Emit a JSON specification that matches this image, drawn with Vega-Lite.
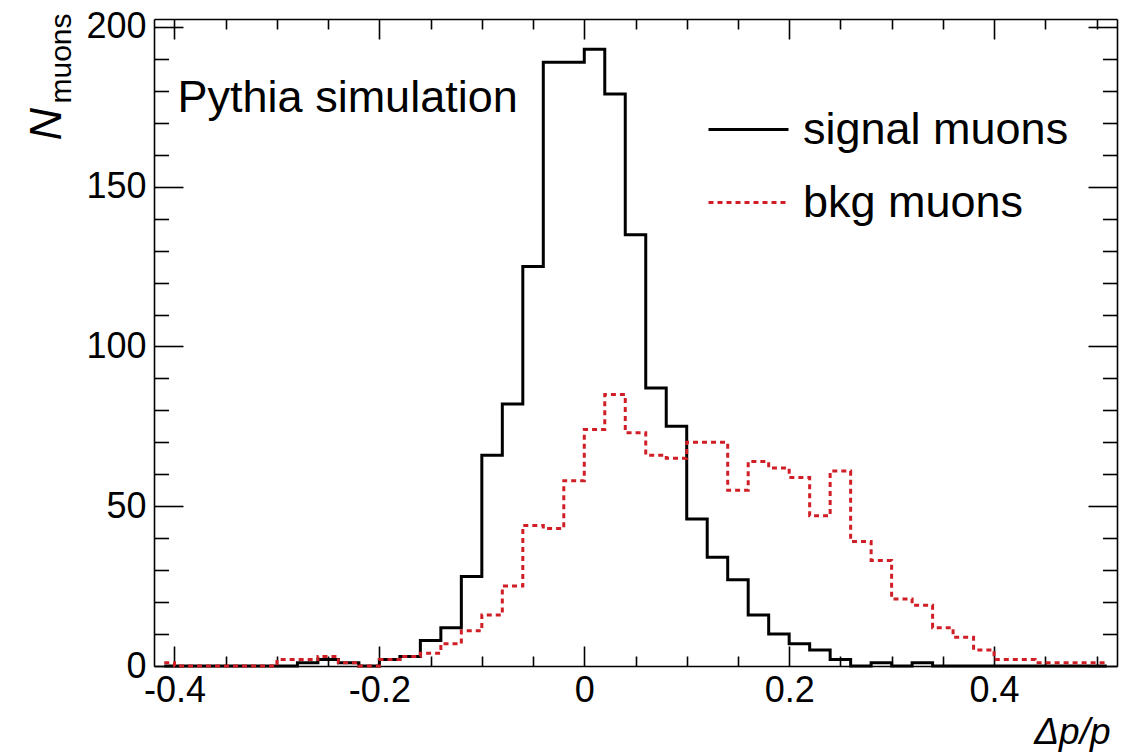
{
  "$schema": "https://vega.github.io/schema/vega-lite/v6.json",
  "width": 963,
  "height": 647,
  "autosize": {"type": "none"},
  "padding": {"left": 154, "top": 19, "right": 20, "bottom": 89},
  "background": "white",
  "config": {
    "view": {"stroke": null},
    "font": "Liberation Sans",
    "axis": {
      "grid": false,
      "domainColor": "#000000",
      "domainWidth": 1.6,
      "tickColor": "#000000",
      "tickWidth": 1.6,
      "labelColor": "#000000",
      "titleColor": "#000000",
      "labelFont": "Liberation Sans",
      "titleFont": "Liberation Sans",
      "titleFontWeight": "normal",
      "labelFontSize": 36,
      "labelOverlap": false,
      "labelFlush": false,
      "labelBound": false
    },
    "legend": {"rowPadding": 8}
  },
  "data": {
    "values": [
      {"x": -0.41, "series": "signal muons", "count": 0},
      {"x": -0.39, "series": "signal muons", "count": 0},
      {"x": -0.37, "series": "signal muons", "count": 0},
      {"x": -0.35, "series": "signal muons", "count": 0},
      {"x": -0.33, "series": "signal muons", "count": 0},
      {"x": -0.31, "series": "signal muons", "count": 0},
      {"x": -0.29, "series": "signal muons", "count": 0},
      {"x": -0.27, "series": "signal muons", "count": 1},
      {"x": -0.25, "series": "signal muons", "count": 2},
      {"x": -0.23, "series": "signal muons", "count": 1},
      {"x": -0.21, "series": "signal muons", "count": 0},
      {"x": -0.19, "series": "signal muons", "count": 2},
      {"x": -0.17, "series": "signal muons", "count": 3},
      {"x": -0.15, "series": "signal muons", "count": 8},
      {"x": -0.13, "series": "signal muons", "count": 12},
      {"x": -0.11, "series": "signal muons", "count": 28},
      {"x": -0.09, "series": "signal muons", "count": 66},
      {"x": -0.07, "series": "signal muons", "count": 82},
      {"x": -0.05, "series": "signal muons", "count": 125},
      {"x": -0.03, "series": "signal muons", "count": 189},
      {"x": -0.01, "series": "signal muons", "count": 189},
      {"x": 0.01, "series": "signal muons", "count": 193},
      {"x": 0.03, "series": "signal muons", "count": 179},
      {"x": 0.05, "series": "signal muons", "count": 135},
      {"x": 0.07, "series": "signal muons", "count": 87},
      {"x": 0.09, "series": "signal muons", "count": 75},
      {"x": 0.11, "series": "signal muons", "count": 46},
      {"x": 0.13, "series": "signal muons", "count": 34},
      {"x": 0.15, "series": "signal muons", "count": 27},
      {"x": 0.17, "series": "signal muons", "count": 16},
      {"x": 0.19, "series": "signal muons", "count": 10},
      {"x": 0.21, "series": "signal muons", "count": 7},
      {"x": 0.23, "series": "signal muons", "count": 5},
      {"x": 0.25, "series": "signal muons", "count": 2},
      {"x": 0.27, "series": "signal muons", "count": 0},
      {"x": 0.29, "series": "signal muons", "count": 1},
      {"x": 0.31, "series": "signal muons", "count": 0},
      {"x": 0.33, "series": "signal muons", "count": 1},
      {"x": 0.35, "series": "signal muons", "count": 0},
      {"x": 0.37, "series": "signal muons", "count": 0},
      {"x": 0.39, "series": "signal muons", "count": 0},
      {"x": 0.41, "series": "signal muons", "count": 0},
      {"x": 0.43, "series": "signal muons", "count": 0},
      {"x": 0.45, "series": "signal muons", "count": 0},
      {"x": 0.47, "series": "signal muons", "count": 0},
      {"x": 0.49, "series": "signal muons", "count": 0},
      {"x": 0.51, "series": "signal muons", "count": 0},
      {"x": -0.41, "series": "bkg muons", "count": 1},
      {"x": -0.39, "series": "bkg muons", "count": 0},
      {"x": -0.37, "series": "bkg muons", "count": 0},
      {"x": -0.35, "series": "bkg muons", "count": 0},
      {"x": -0.33, "series": "bkg muons", "count": 0},
      {"x": -0.31, "series": "bkg muons", "count": 0},
      {"x": -0.29, "series": "bkg muons", "count": 2},
      {"x": -0.27, "series": "bkg muons", "count": 2},
      {"x": -0.25, "series": "bkg muons", "count": 3},
      {"x": -0.23, "series": "bkg muons", "count": 1},
      {"x": -0.21, "series": "bkg muons", "count": 0},
      {"x": -0.19, "series": "bkg muons", "count": 2},
      {"x": -0.17, "series": "bkg muons", "count": 3},
      {"x": -0.15, "series": "bkg muons", "count": 4},
      {"x": -0.13, "series": "bkg muons", "count": 7},
      {"x": -0.11, "series": "bkg muons", "count": 11},
      {"x": -0.09, "series": "bkg muons", "count": 16},
      {"x": -0.07, "series": "bkg muons", "count": 25},
      {"x": -0.05, "series": "bkg muons", "count": 44},
      {"x": -0.03, "series": "bkg muons", "count": 43},
      {"x": -0.01, "series": "bkg muons", "count": 58},
      {"x": 0.01, "series": "bkg muons", "count": 74},
      {"x": 0.03, "series": "bkg muons", "count": 85},
      {"x": 0.05, "series": "bkg muons", "count": 73},
      {"x": 0.07, "series": "bkg muons", "count": 66},
      {"x": 0.09, "series": "bkg muons", "count": 65},
      {"x": 0.11, "series": "bkg muons", "count": 70},
      {"x": 0.13, "series": "bkg muons", "count": 70},
      {"x": 0.15, "series": "bkg muons", "count": 55},
      {"x": 0.17, "series": "bkg muons", "count": 64},
      {"x": 0.19, "series": "bkg muons", "count": 62},
      {"x": 0.21, "series": "bkg muons", "count": 59},
      {"x": 0.23, "series": "bkg muons", "count": 47},
      {"x": 0.25, "series": "bkg muons", "count": 61},
      {"x": 0.27, "series": "bkg muons", "count": 39},
      {"x": 0.29, "series": "bkg muons", "count": 33},
      {"x": 0.31, "series": "bkg muons", "count": 21},
      {"x": 0.33, "series": "bkg muons", "count": 19},
      {"x": 0.35, "series": "bkg muons", "count": 12},
      {"x": 0.37, "series": "bkg muons", "count": 9},
      {"x": 0.39, "series": "bkg muons", "count": 5},
      {"x": 0.41, "series": "bkg muons", "count": 2},
      {"x": 0.43, "series": "bkg muons", "count": 2},
      {"x": 0.45, "series": "bkg muons", "count": 1},
      {"x": 0.47, "series": "bkg muons", "count": 1},
      {"x": 0.49, "series": "bkg muons", "count": 1},
      {"x": 0.51, "series": "bkg muons", "count": 1}
    ]
  },
  "resolve": {"axis": {"x": "independent", "y": "independent"}},
  "layer": [
    {
      "transform": [{"filter": "datum.series === 'signal muons'"}],
      "mark": {"type": "line", "interpolate": "step", "strokeWidth": 3, "strokeCap": "butt", "strokeJoin": "miter"},
      "encoding": {
        "x": {
          "field": "x",
          "type": "quantitative",
          "scale": {"domain": [-0.42, 0.52], "nice": false, "zero": false},
          "axis": {
            "orient": "bottom",
            "values": [-0.4, -0.35, -0.3, -0.25, -0.2, -0.15, -0.1, -0.05, 0, 0.05, 0.1, 0.15, 0.2, 0.25, 0.3, 0.35, 0.4, 0.45, 0.5],
            "tickSize": {"condition": {"test": "abs(datum.value*5 - round(datum.value*5)) < 0.000001", "value": -20}, "value": -10},
            "labelExpr": "abs(datum.value*5 - round(datum.value*5)) < 0.000001 ? replace(format(datum.value, '~g'), '−', '-') : ''",
            "labelPadding": 27,
            "labelBaseline": "top",
            "title": "Δp/p",
            "titleFontSize": 37,
            "titleFontStyle": "italic",
            "titleAlign": "right",
            "titleBaseline": "alphabetic",
            "titleX": 956,
            "titleY": 77
          }
        },
        "y": {
          "field": "count",
          "type": "quantitative",
          "scale": {"domain": [0, 202.5], "nice": false},
          "axis": {
            "orient": "left",
            "values": [0, 10, 20, 30, 40, 50, 60, 70, 80, 90, 100, 110, 120, 130, 140, 150, 160, 170, 180, 190, 200],
            "tickSize": {"condition": {"test": "datum.value % 50 === 0", "value": -29}, "value": -14.5},
            "labelExpr": "datum.value % 50 === 0 ? datum.label : ''",
            "labelPadding": 37,
            "labelBaseline": "middle",
            "title": "N",
            "titleFontSize": 45,
            "titleFontStyle": "italic",
            "titleAngle": -90,
            "titleAlign": "left",
            "titleBaseline": "alphabetic",
            "titleX": -94,
            "titleY": 121
          }
        },
        "color": {
          "field": "series",
          "type": "nominal",
          "scale": {"domain": ["signal muons", "bkg muons"], "range": ["#000000", "#d01e26"]},
          "legend": {
            "title": null,
            "orient": "none",
            "legendX": 553,
            "legendY": 69,
            "padding": 0,
            "symbolType": "stroke",
            "symbolSize": 6400,
            "symbolStrokeWidth": 3,
            "labelFontSize": 45,
            "labelFont": "Liberation Sans",
            "labelColor": "#000000",
            "labelOffset": 13,
            "labelLimit": 500,
            "rowPadding": 8
          }
        },
        "strokeDash": {
          "field": "series",
          "type": "nominal",
          "scale": {"domain": ["signal muons", "bkg muons"], "range": [[1, 0], [5, 4]]},
          "legend": {
            "title": null,
            "orient": "none",
            "legendX": 553,
            "legendY": 69,
            "padding": 0,
            "symbolType": "stroke",
            "symbolSize": 6400,
            "symbolStrokeWidth": 3,
            "labelFontSize": 45,
            "labelFont": "Liberation Sans",
            "labelColor": "#000000",
            "labelOffset": 13,
            "labelLimit": 500,
            "rowPadding": 8
          }
        }
      }
    },
    {
      "transform": [{"filter": "datum.series === 'bkg muons'"}],
      "mark": {"type": "line", "interpolate": "step", "strokeWidth": 3, "strokeCap": "butt"},
      "encoding": {
        "x": {
          "field": "x",
          "type": "quantitative",
          "axis": {
            "orient": "top",
            "values": [-0.4, -0.35, -0.3, -0.25, -0.2, -0.15, -0.1, -0.05, 0, 0.05, 0.1, 0.15, 0.2, 0.25, 0.3, 0.35, 0.4, 0.45, 0.5],
            "tickSize": {"condition": {"test": "abs(datum.value*5 - round(datum.value*5)) < 0.000001", "value": -20}, "value": -10},
            "labels": false,
            "title": null
          }
        },
        "y": {
          "field": "count",
          "type": "quantitative",
          "axis": {
            "orient": "right",
            "values": [0, 10, 20, 30, 40, 50, 60, 70, 80, 90, 100, 110, 120, 130, 140, 150, 160, 170, 180, 190, 200],
            "tickSize": {"condition": {"test": "datum.value % 50 === 0", "value": -29}, "value": -14.5},
            "labels": false,
            "title": null
          }
        },
        "color": {"field": "series", "type": "nominal"},
        "strokeDash": {"field": "series", "type": "nominal"}
      }
    },
    {
      "data": {"values": [{"label": "Pythia simulation"}]},
      "mark": {"type": "text", "fontSize": 45, "font": "Liberation Sans", "align": "left", "baseline": "alphabetic", "color": "#000000"},
      "encoding": {
        "text": {"field": "label"},
        "x": {"datum": -0.397, "type": "quantitative", "axis": null},
        "y": {
          "datum": 173.5,
          "type": "quantitative",
          "axis": {
            "orient": "left",
            "ticks": false,
            "labels": false,
            "domain": false,
            "title": "muons",
            "titleFontSize": 30,
            "titleFontStyle": "normal",
            "titleAngle": -90,
            "titleAlign": "left",
            "titleBaseline": "alphabetic",
            "titleX": -84,
            "titleY": 84
          }
        }
      }
    }
  ]
}
